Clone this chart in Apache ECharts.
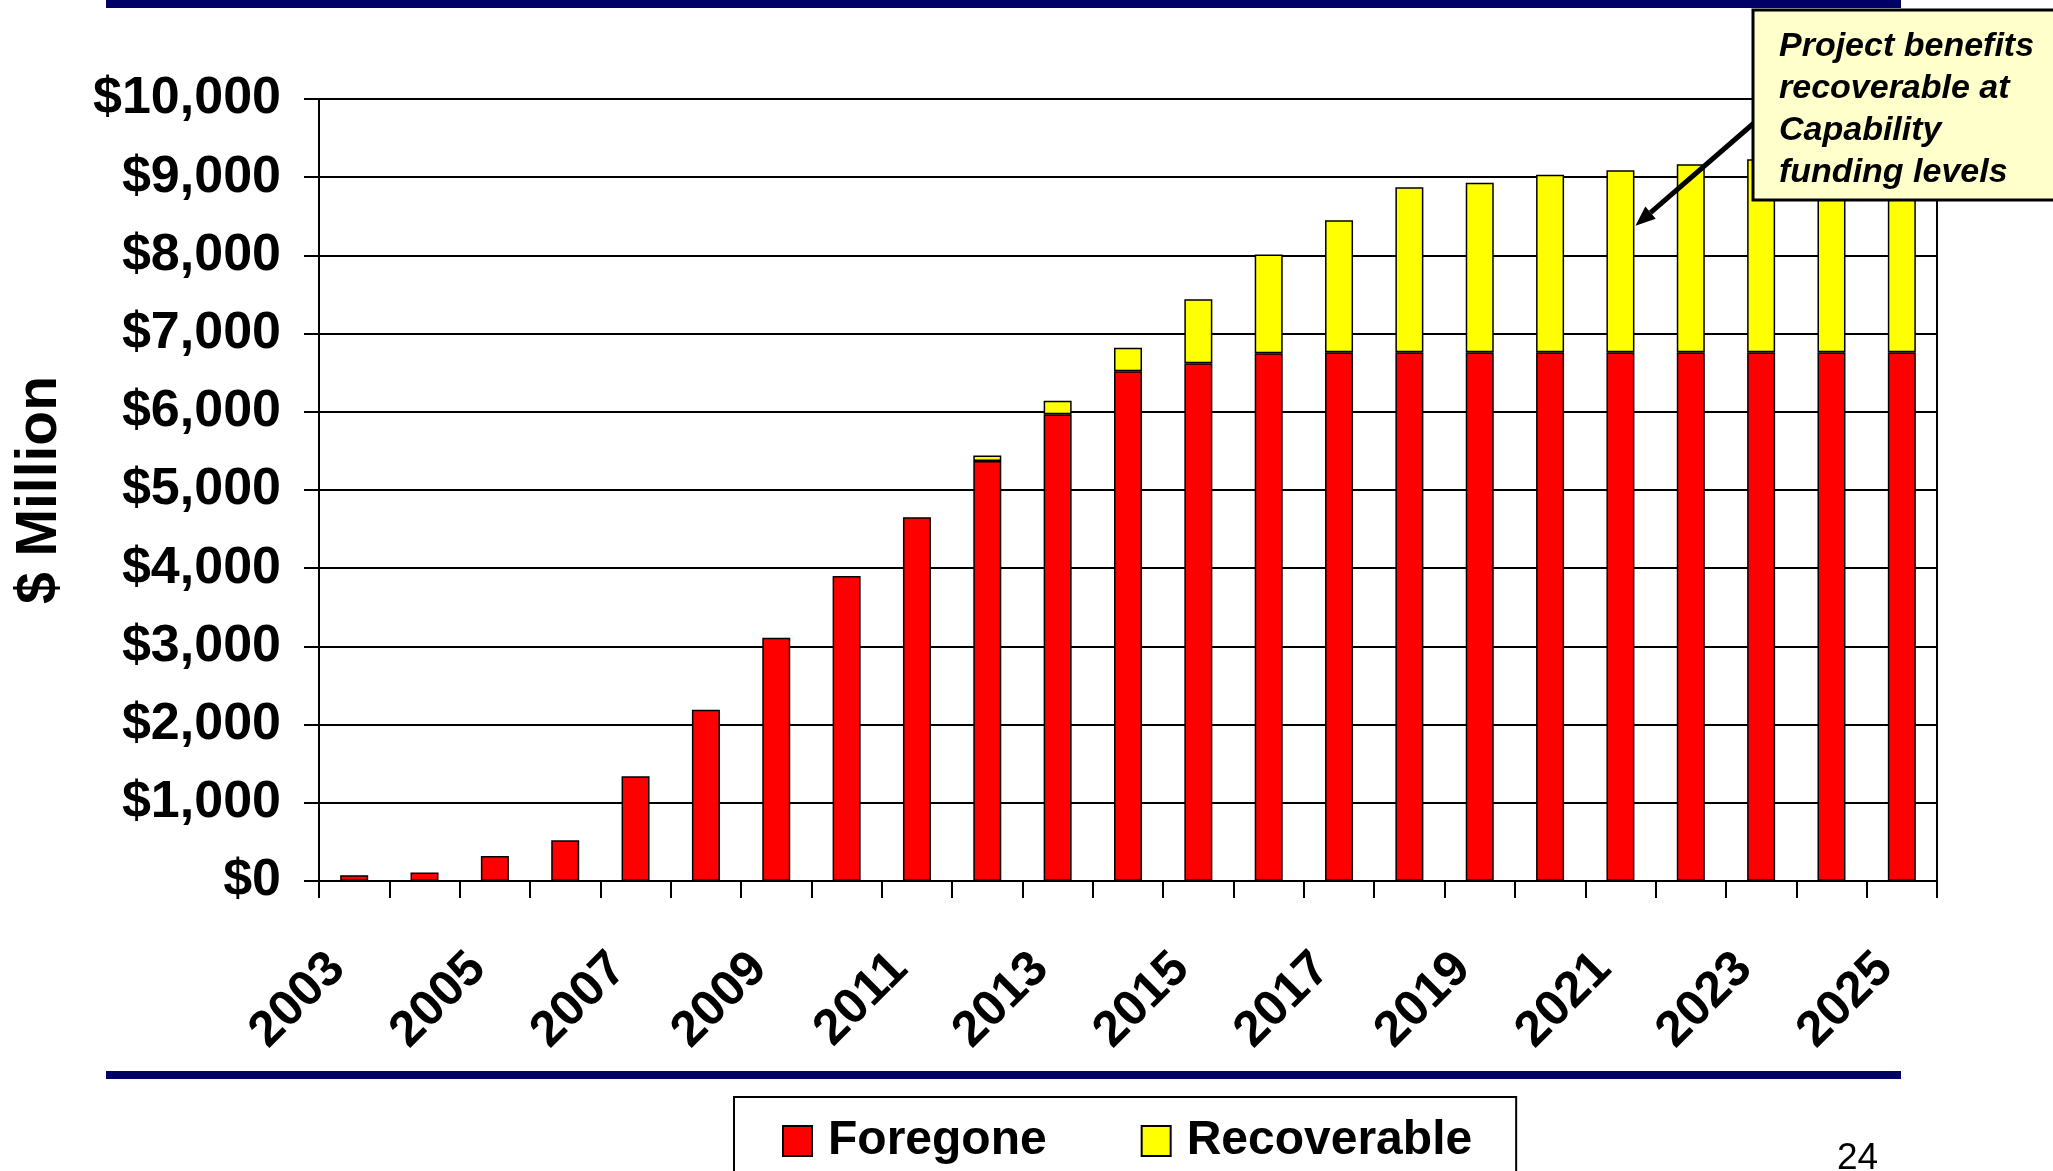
<!DOCTYPE html>
<html>
<head>
<meta charset="utf-8">
<title>Project benefits</title>
<script src="https://cdn.jsdelivr.net/npm/echarts@6/dist/echarts.min.js"></script>
<style>
  html, body { margin: 0; padding: 0; background: #fff; }
  #chart { width: 2053px; height: 1171px; }
</style>
</head>
<body>
<div id="chart"></div>
<script>
const years = ['2003','2004','2005','2006','2007','2008','2009','2010','2011','2012','2013','2014',
  '2015','2016','2017','2018','2019','2020','2021','2022','2023','2024','2025']
// $ million
const foregone = [75, 110, 320, 520, 1340, 2190, 3110, 3900, 4650, 5370, 5970, 6520,
  6620, 6750, 6760, 6760, 6760, 6760, 6760, 6760, 6760, 6760, 6760]
const recoverable = [null, null, null, null, null, null, null, null, null, 70, 170, 300,
  820, 1260, 1690, 2110, 2170, 2270, 2330, 2405, 2470, 2530, 2590]
const noteLines = ['Project benefits', 'recoverable at', 'Capability', 'funding levels']

const FONT = 'Arial, "Liberation Sans", sans-serif'
const chart = echarts.init(document.getElementById('chart'))

const barStyle = (color) => ({ color, borderColor: '#000', borderWidth: 1.5 })

chart.setOption({
  animation: false,
  grid: { left: 319, right: 116, top: 99, bottom: 290, show: true, borderColor: '#000', borderWidth: 2 },
  xAxis: {
    type: 'category',
    data: years,
    axisLine: { lineStyle: { color: '#000', width: 2 } },
    axisTick: { show: true, interval: 0, length: 17, lineStyle: { color: '#000', width: 2 } },
    axisLabel: {
      interval: 1, rotate: 45, margin: 63,
      padding: [0, 24, 0, 0],
      color: '#000', fontFamily: FONT, fontWeight: 'bold', fontSize: 50
    }
  },
  yAxis: {
    type: 'value',
    min: 0, max: 10000, interval: 1000,
    name: '$ Million',
    nameLocation: 'middle',
    nameGap: 250,
    nameRotate: 90,
    nameTextStyle: { color: '#000', fontFamily: FONT, fontWeight: 'bold', fontSize: 57 },
    axisLine: { show: true, lineStyle: { color: '#000', width: 2 } },
    axisTick: { show: true, length: 15, lineStyle: { color: '#000', width: 2 } },
    axisLabel: {
      margin: 38, color: '#000', fontFamily: FONT, fontWeight: 'bold', fontSize: 52,
      formatter: (v) => '$' + v.toLocaleString('en-US')
    },
    splitLine: { show: true, lineStyle: { color: '#000', width: 2 } }
  },
  legend: {
    left: 734, top: 1097,
    padding: [20, 44, 40, 48],
    itemGap: 94,
    icon: 'rect',
    itemWidth: 29, itemHeight: 30,
    borderColor: '#000', borderWidth: 2,
    backgroundColor: '#fff',
    textStyle: { color: '#000', fontFamily: FONT, fontWeight: 'bold', fontSize: 48, padding: [0, 0, 0, 11] },
    data: ['Foregone', 'Recoverable']
  },
  series: [
    { name: 'Foregone', type: 'bar', stack: 'total', barWidth: 28, itemStyle: barStyle('#FF0000'), data: foregone },
    { name: 'Recoverable', type: 'bar', stack: 'total', barWidth: 28, itemStyle: barStyle('#FFFF00'), data: recoverable }
  ]
})

// callout box + arrow pointing at the 2021 recoverable segment
const tip = chart.convertToPixel({ seriesIndex: 1 }, ['2021', 8380])
tip[0] += 15
const start = [1754, 123]
const ang = Math.atan2(tip[1] - start[1], tip[0] - start[0])
const headLen = 20, headW = 8
const base = [tip[0] - headLen * Math.cos(ang), tip[1] - headLen * Math.sin(ang)]
const perp = [-Math.sin(ang) * headW, Math.cos(ang) * headW]

chart.setOption({
  graphic: [
    { type: 'rect', shape: { x: 106, y: 0, width: 1795, height: 8 }, style: { fill: '#000066' }, z: 10 },
    { type: 'rect', shape: { x: 106, y: 1071, width: 1795, height: 8 }, style: { fill: '#000066' }, z: 10 },
    {
      type: 'line', z: 20,
      shape: { x1: start[0], y1: start[1], x2: base[0], y2: base[1] },
      style: { stroke: '#000', lineWidth: 5 }
    },
    {
      type: 'polygon', z: 20,
      shape: { points: [tip, [base[0] + perp[0], base[1] + perp[1]], [base[0] - perp[0], base[1] - perp[1]]] },
      style: { fill: '#000' }
    },
    {
      type: 'rect', z: 30,
      shape: { x: 1753, y: 10, width: 310, height: 190 },
      style: { fill: '#FFFFCC', stroke: '#000', lineWidth: 3 }
    },
    {
      type: 'text', z: 31, x: 1779, y: 26,
      style: {
        text: noteLines.join('\n'), fill: '#000',
        font: 'italic bold 34px ' + FONT, lineHeight: 42
      }
    },
    {
      type: 'text', z: 31, x: 1837, y: 1140,
      style: { text: '24', fill: '#000', font: '37px ' + FONT }
    }
  ]
})
</script>
</body>
</html>
